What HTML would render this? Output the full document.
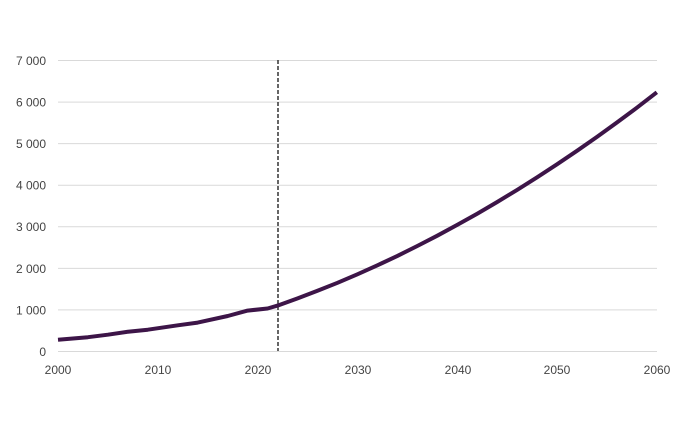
<!DOCTYPE html>
<html><head><meta charset="utf-8"><style>
html,body{margin:0;padding:0;background:#fff;}
svg{display:block;font-family:"Liberation Sans",sans-serif;}
</style></head><body>
<svg width="690" height="447" viewBox="0 0 690 447">
<g stroke="#d9d9d9" stroke-width="1">
<line x1="58" x2="657" y1="60.5" y2="60.5"/>
<line x1="58" x2="657" y1="102.1" y2="102.1"/>
<line x1="58" x2="657" y1="143.6" y2="143.6"/>
<line x1="58" x2="657" y1="185.2" y2="185.2"/>
<line x1="58" x2="657" y1="226.8" y2="226.8"/>
<line x1="58" x2="657" y1="268.4" y2="268.4"/>
<line x1="58" x2="657" y1="309.9" y2="309.9"/>
<line x1="58" x2="657" y1="351.5" y2="351.5"/>
</g>
<g font-size="12" fill="#444" text-anchor="end">
<text x="46" y="65">7 000</text>
<text x="46" y="106.5">6 000</text>
<text x="46" y="148">5 000</text>
<text x="46" y="189.5">4 000</text>
<text x="46" y="231">3 000</text>
<text x="46" y="273">2 000</text>
<text x="46" y="314.5">1 000</text>
<text x="46" y="356">0</text>
</g>
<g font-size="12" fill="#444" text-anchor="middle">
<text x="58" y="374">2000</text>
<text x="158" y="374">2010</text>
<text x="258" y="374">2020</text>
<text x="358" y="374">2030</text>
<text x="458" y="374">2040</text>
<text x="557" y="374">2050</text>
<text x="657" y="374">2060</text>
</g>
<line x1="278" x2="278" y1="60" y2="351" stroke="#333" stroke-width="1.5" stroke-dasharray="4,2"/>
<polyline fill="none" stroke="#3d1548" stroke-width="4" stroke-linejoin="round" stroke-linecap="butt"
points="58,339.7 87.9,337.2 107.9,334.7 127.9,331.7 147.8,329.7 177.8,325.3 197.7,322.6 227.7,316 247.6,310.6 267.6,308.5 277.6,305.6 297.6,298.4 317.5,290.8 337.5,282.8 357.4,274.3 377.4,265.3 397.4,255.9 417.3,246 437.3,235.7 457.2,224.9 477.2,213.7 497.2,202 517.1,189.9 537.1,177.3 557,164.3 577,150.8 597,136.9 616.9,122.5 636.9,107.7 656.8,92.3"/>
</svg>
</body></html>
